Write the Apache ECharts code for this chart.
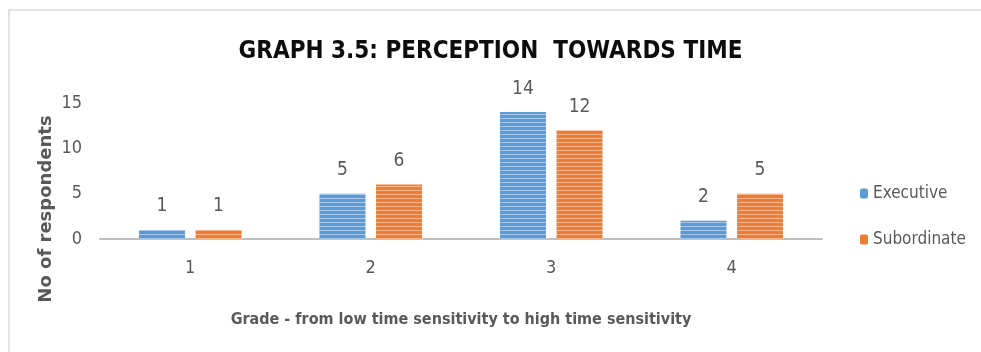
<!DOCTYPE html>
<html><head><meta charset="utf-8">
<script src="https://cdn.jsdelivr.net/npm/echarts@6/dist/echarts.min.js"></script>
<style>html,body{margin:0;padding:0;background:#fff}#c{width:981px;height:352px}</style>
</head><body><div id="c"></div>
<script>
const categories = ['1', '2', '3', '4'];
const executive = [1, 5, 14, 2];
const subordinate = [1, 6, 12, 5];
const seriesNames = ['Executive', 'Subordinate'];
const titleText = 'GRAPH 3.5: PERCEPTION  TOWARDS TIME';
const xName = 'Grade - from low time sensitivity to high time sensitivity';
const yName = 'No of respondents';

function stripe(base, light) {
  const c = document.createElement('canvas');
  c.width = 8; c.height = 4;
  const g = c.getContext('2d');
  g.fillStyle = base; g.fillRect(0, 0, 8, 4);
  g.fillStyle = light; g.fillRect(0, 2, 8, 1);
  return c;
}
const blueFill = { image: stripe('#5B9BD5', '#A7C8EA'), repeat: 'repeat' };
const orangeFill = { image: stripe('#ED7D31', '#F5B68E'), repeat: 'repeat' };
const FONT = '"DejaVu Sans Condensed", "DejaVu Sans", sans-serif';

const chart = echarts.init(document.getElementById('c'), null, { renderer: 'canvas' });
chart.setOption({
  animation: false,
  textStyle: { fontFamily: FONT },
  title: {
    text: titleText, left: 'center', top: 35,
    textStyle: { fontFamily: FONT, fontSize: 24, fontWeight: 'bold', color: '#0d0d0d' }
  },
  grid: { left: 100, right: 159, top: 103, bottom: 113 },
  legend: {
    orient: 'vertical', left: 855, top: 180, itemGap: 29,
    itemWidth: 8, itemHeight: 10,
    textStyle: { fontFamily: FONT, fontSize: 17, color: '#595959' },
    data: [
      { name: seriesNames[0], itemStyle: { color: '#5B9BD5' } },
      { name: seriesNames[1], itemStyle: { color: '#ED7D31' } }
    ]
  },
  xAxis: {
    type: 'category', data: categories,
    axisLine: { lineStyle: { color: '#BFBFBF', width: 2 } },
    axisTick: { show: false },
    axisLabel: { fontFamily: FONT, fontSize: 18, color: '#595959', margin: 20 },
    name: xName, nameLocation: 'middle', nameGap: 73,
    nameTextStyle: { fontFamily: FONT, fontSize: 16, fontWeight: 'bold', color: '#595959' }
  },
  yAxis: {
    type: 'value', min: 0, max: 15, interval: 5,
    splitLine: { show: false },
    axisLine: { show: false }, axisTick: { show: false },
    axisLabel: { fontFamily: FONT, fontSize: 18, color: '#595959', margin: 18 }
  },
  graphic: [
    { type: 'rect', shape: { x: 9, y: 10, width: 990, height: 360 }, style: { fill: 'none', stroke: '#D9D9D9', lineWidth: 1.5 }, silent: true },
    { type: 'text', x: 46, y: 209, rotation: Math.PI / 2,
      style: { text: yName, fontFamily: '"DejaVu Sans", sans-serif', fontSize: 18, fontWeight: 'bold', fill: '#595959', align: 'center', verticalAlign: 'middle' } }
  ],
  series: [
    { name: seriesNames[0], type: 'bar', data: executive, barWidth: 46, barGap: '23%',
      itemStyle: { color: blueFill },
      label: { show: true, position: 'top', distance: 14, fontFamily: FONT, fontSize: 19, color: '#595959' } },
    { name: seriesNames[1], type: 'bar', data: subordinate, barWidth: 46,
      itemStyle: { color: orangeFill },
      label: { show: true, position: 'top', distance: 14, fontFamily: FONT, fontSize: 19, color: '#595959' } }
  ]
});
</script></body></html>
